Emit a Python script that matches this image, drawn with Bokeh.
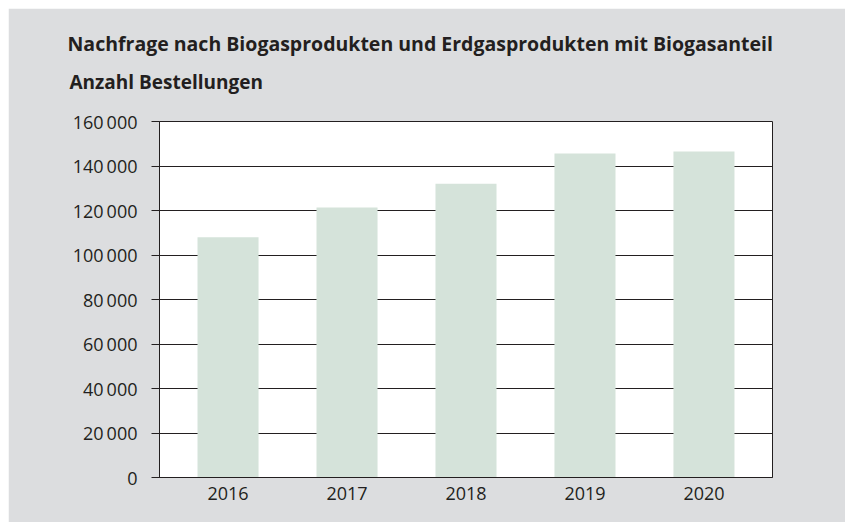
from bokeh.plotting import figure
from bokeh.models import ColumnDataSource, FixedTicker, Title, Range1d
from bokeh.embed import file_html
from bokeh.resources import INLINE

years = ["2016", "2017", "2018", "2019", "2020"]
orders = [108000, 121300, 132000, 145600, 146500]
y_ticks = [0, 20000, 40000, 60000, 80000, 100000, 120000, 140000, 160000]
title_text = "Nachfrage nach Biogasprodukten und Erdgasprodukten mit Biogasanteil"
subtitle_text = "Anzahl Bestellungen"

DARK = "#231f20"
BG = "#dcdddf"
BAR = "#d5e3da"
FONT = "Open Sans"

xs = list(range(len(years)))
src = ColumnDataSource(dict(x=xs, top=orders))

p = figure(width=837, height=514, output_backend="svg", toolbar_location=None,
           x_range=Range1d(-0.576, len(years) - 1 + 0.576),
           y_range=Range1d(0, 160000),
           min_border_left=151, min_border_right=73,
           min_border_top=113, min_border_bottom=45,
           margin=(8, 0, 0, 8))
p.background_fill_color = "white"
p.border_fill_color = BG
p.outline_line_color = DARK
p.outline_line_width = 1

p.vbar(x="x", top="top", width=0.513, source=src, fill_color=BAR, line_color=None)

p.xgrid.visible = False
p.ygrid.ticker = FixedTicker(ticks=y_ticks)
p.ygrid.grid_line_color = DARK
p.ygrid.grid_line_width = 1

xa = p.xaxis[0]
xa.ticker = FixedTicker(ticks=xs)
xa.major_label_overrides = {i: y for i, y in zip(xs, years)}
xa.major_tick_out = 0
xa.major_tick_in = 0
xa.minor_tick_out = 0
xa.minor_tick_in = 0
xa.axis_line_color = DARK
xa.major_label_standoff = 9
xa.major_label_text_font = FONT
xa.major_label_text_font_size = "18px"
xa.major_label_text_color = DARK

ya = p.yaxis[0]
ya.ticker = FixedTicker(ticks=y_ticks)
ya.major_label_overrides = {t: f"{t:,}".replace(",", "\u2009") for t in y_ticks}
ya.major_tick_out = 8
ya.major_tick_in = 0
ya.minor_tick_out = 0
ya.minor_tick_in = 0
ya.major_tick_line_color = DARK
ya.axis_line_color = DARK
ya.major_label_standoff = 14
ya.major_label_text_font = FONT
ya.major_label_text_font_size = "18px"
ya.major_label_text_color = DARK

p.add_layout(Title(text=subtitle_text, align="left", offset=-90,
                   text_font=FONT, text_font_style="bold", text_font_size="19px",
                   text_color=DARK, standoff=53), "above")
p.add_layout(Title(text=title_text, align="left", offset=-92,
                   text_font=FONT, text_font_style="bold", text_font_size="19.5px",
                   text_color=DARK, standoff=-32), "above")

open("out.html", "w").write(file_html(p, INLINE))
